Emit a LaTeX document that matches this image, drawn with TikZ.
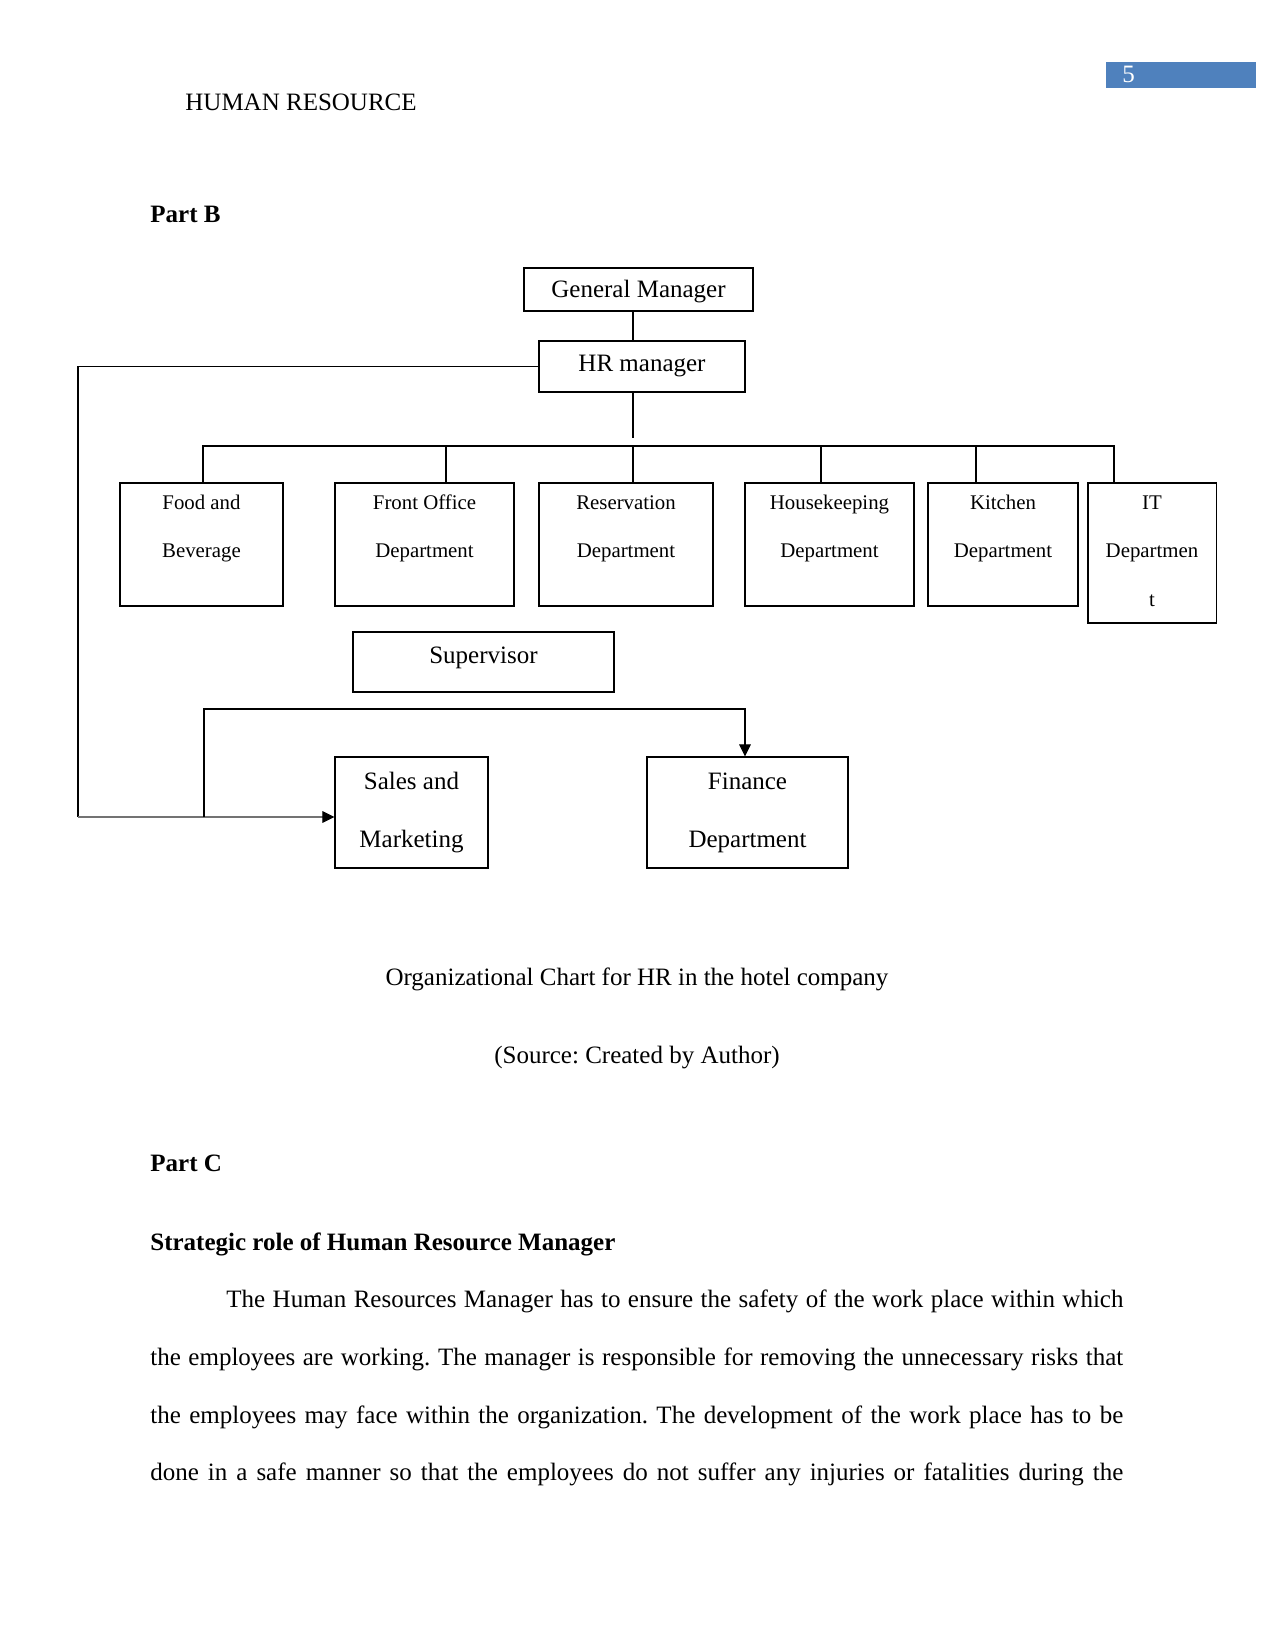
\documentclass[tikz,border=0pt]{standalone}
\usepackage{fontspec}
\setmainfont{Liberation Serif}
\usetikzlibrary{arrows.meta}
\definecolor{pgblue}{HTML}{4F81BD}
\frenchspacing
\begin{document}
\begin{tikzpicture}[x=0.48pt,y=-0.48pt,
  box/.style={draw, line width=0.5pt, inner sep=0pt},
  conn/.style={line width=0.5pt},
  arr/.style={conn, -{Triangle[length=5.8pt,width=5.6pt,color=black]}},
  t12/.style={inner sep=0pt, anchor=base, font=\fontsize{12}{14}\selectfont},
  t10/.style={inner sep=0pt, anchor=base, font=\fontsize{10}{12}\selectfont},
  tl/.style={inner sep=0pt, anchor=base west, font=\fontsize{12}{14}\selectfont},
  hd/.style={inner sep=0pt, anchor=base west, font=\fontsize{12}{14}\selectfont\bfseries},
]
\useasboundingbox[fill=white] (0,0) rectangle (1275,1650);

% header
\node[fill=pgblue, inner sep=0pt, minimum width=72pt, minimum height=12.5pt] (pnbox) at (1181,75) {};
\node[tl, text=white] (pn) at (1122,83) {5};
\node[tl] (runhead) at (185,111) {HUMAN RESOURCE};
\node[hd] (partb) at (150,223) {Part B};

% boxes
\node[box, minimum width=109.92pt, minimum height=20.64pt] (gm) at (638.5,289.5) {};
\node[box, minimum width=98.88pt, minimum height=24.48pt] (hr) at (642,366.5) {};
\node[box, minimum width=78.24pt, minimum height=59.04pt] (fb) at (201.5,544.5) {};
\node[box, minimum width=85.92pt, minimum height=59.04pt] (fo) at (424.5,544.5) {};
\node[box, minimum width=83.52pt, minimum height=59.04pt] (res) at (626,544.5) {};
\node[box, minimum width=81.12pt, minimum height=59.04pt] (hk) at (829.5,544.5) {};
\node[box, minimum width=72pt, minimum height=59.04pt] (kit) at (1003,544.5) {};
\node[box, minimum width=61.44pt, minimum height=67.2pt] (it) at (1152,553) {};
\node[box, minimum width=125.28pt, minimum height=28.8pt] (sup) at (483.5,662) {};
\node[box, minimum width=73.44pt, minimum height=53.28pt] (sm) at (411.5,812.5) {};
\node[box, minimum width=96.48pt, minimum height=53.28pt] (fin) at (747.5,812.5) {};

% box texts
\node[t12] (gmt) at (638.5,298) {General Manager};
\node[t12] (hrt) at (642,372) {HR manager};
\node[t10] (fbt1) at (201.5,509) {Food and};
\node[t10] (fbt2) at (201.5,557) {Beverage};
\node[t10] (fot1) at (424.5,509) {Front Office};
\node[t10] (fot2) at (424.5,557) {Department};
\node[t10] (rest1) at (626,509) {Reservation};
\node[t10] (rest2) at (626,557) {Department};
\node[t10] (hkt1) at (829.5,509) {Housekeeping};
\node[t10] (hkt2) at (829.5,557) {Department};
\node[t10] (kitt1) at (1003,509) {Kitchen};
\node[t10] (kitt2) at (1003,557) {Department};
\node[t10] (itt1) at (1152,509) {IT};
\node[t10] (itt2) at (1152,557) {Departmen};
\node[t10] (itt3) at (1152,606) {t};
\node[t12] (supt) at (483.5,663) {Supervisor};
\node[t12] (smt1) at (411.5,789) {Sales and};
\node[t12] (smt2) at (411.5,847) {Marketing};
\node[t12] (fint1) at (747.5,789) {Finance};
\node[t12] (fint2) at (747.5,847) {Department};

% connectors
\coordinate (sp) at (633,0);
\coordinate (hrend) at (633,438);
\draw[conn] (gm.south -| sp) -- (hr.north -| sp);
\draw[conn] (hr.south -| sp) -- (hrend);
\coordinate (c1) at (203,446);
\coordinate (c2) at (446,446);
\coordinate (c3) at (633,446);
\coordinate (c4) at (821,446);
\coordinate (c5) at (976,446);
\coordinate (c6) at (1114,446);
\draw[conn] (fb.north -| c1) -- (c1) -- (c6) -- (it.north -| c6);
\draw[conn] (c2) -- (fo.north -| c2);
\draw[conn] (c3) -- (res.north -| c3);
\draw[conn] (c4) -- (hk.north -| c4);
\draw[conn] (c5) -- (kit.north -| c5);

\coordinate (lc) at (78,817);
\coordinate (ic) at (204,817);
\coordinate (ftop) at (745,709);
\draw[conn] (hr.west) -| (lc);
\draw[arr, draw=black!55] (lc) -- (sm.west |- lc);
\draw[arr] (ic) |- (ftop) -- (fin.north -| ftop);

% captions
\node[t12] (cap1) at (637,985) {Organizational Chart for HR in the hotel company};
\node[t12] (cap2) at (637,1063) {(Source: Created by Author)};

% Part C
\node[hd] (partc) at (150,1171) {Part C};
\node[hd] (strat) at (150,1250) {Strategic role of Human Resource Manager};
\node[tl] (p1) at (226,1307) {\makebox[430.6pt][s]{The Human Resources Manager has to ensure the safety of the work place within which}};
\node[tl] (p2) at (150,1365) {\makebox[467pt][s]{the employees are working. The manager is responsible for removing the unnecessary risks that}};
\node[tl] (p3) at (150,1423) {\makebox[467pt][s]{the employees may face within the organization. The development of the work place has to be}};
\node[tl] (p4) at (150,1480) {\makebox[467pt][s]{done in a safe manner so that the employees do not suffer any injuries or fatalities during the}};
\end{tikzpicture}
\end{document}
